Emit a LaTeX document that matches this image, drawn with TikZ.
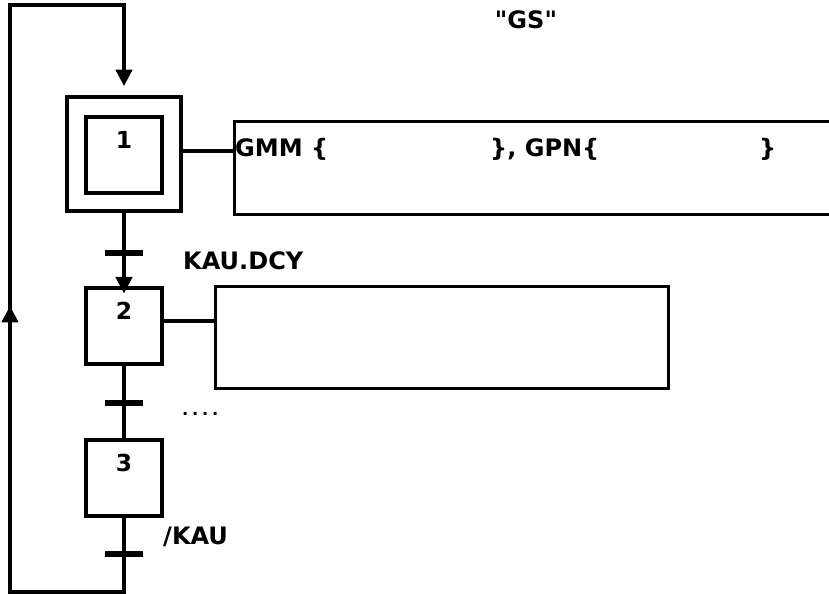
\documentclass[tikz,border=0pt]{standalone}
\usepackage{fontspec}
\newfontfamily\gfont{DejaVu Sans}
\usetikzlibrary{arrows.meta, positioning, calc}
\tikzset{
  stepbox/.style = {draw, line width=2.8pt, minimum size=2.28cm, inner sep=0pt},
  initbox/.style = {draw, line width=2.8pt, minimum size=3.42cm, inner sep=0pt},
  actbox/.style  = {draw, line width=2.8pt},
  link/.style    = {line width=2.8pt},
  arrow/.style   = {-{Triangle[length=14pt, width=14pt]}, line width=2.8pt},
  bar/.style     = {line width=5.5pt},
  num/.style     = {font=\gfont\fontsize{20}{24}\bfseries\selectfont, anchor=north},
  txt/.style     = {font=\gfont\fontsize{20.5}{24}\bfseries\selectfont, inner sep=0pt},
}

\begin{document}
\begin{tikzpicture}[x=0.03cm, y=-0.03cm]
\useasboundingbox (0,0) rectangle (829,594);

% steps
\node[initbox] (s1o) at (124,154) {};
\node[stepbox] (s1) at (124,155) {};
\node[num] at ($(s1.north)+(0,12)$) {1};
\node[stepbox] (s2) at (124,326) {};
\node[num] at ($(s2.north)+(0,12)$) {2};
\node[stepbox] (s3) at (124,478) {};
\node[num] at ($(s3.north)+(0,12)$) {3};

% actions
\node[actbox, minimum width=18.6cm, minimum height=2.79cm, anchor=north west] (a1) at (233,120) {};
\node[actbox, minimum width=13.59cm, minimum height=3.06cm, anchor=north west] (a2) at (214,285) {};
\draw[link] (s1o.east |- 0,151) -- (a1.west |- 0,151);
\draw[link] (s2.east |- 0,321) -- (a2.west |- 0,321);
\node[txt, anchor=west] at (235,149) {GMM \{};
\node[txt, anchor=west] at (490,149) {\}, GPN\{};
\node[txt, anchor=west] at (759,149) {\}};

% transitions
\foreach \y/\n in {253/t1, 403/t2, 554/t3} {
  \coordinate (\n) at (124,\y);
  \draw[bar] ($(\n)+(-19,0)$) -- ($(\n)+(19,0)$);
}
\node[txt, anchor=west] at (183,261) {KAU.DCY};
\node[font=\gfont\fontsize{14}{16}\bfseries\selectfont, anchor=base west, inner sep=0pt] at (182,415) {.\hspace{3.2pt}.\hspace{3.2pt}.\hspace{3.2pt}.};
\node[txt, anchor=west] at (163,537) {/KAU};

% links between steps
\draw[arrow, shorten >=-6pt] (s1o.south) -- (s2.north);
\draw[link] (s2.south) -- (s3.north);

% loop back
\coordinate (bl) at (10,592);
\coordinate (tl) at (10,5);
\coordinate (tr) at (124,5);
\draw[link, line join=miter] (s3.south) -- (124,592) -- (bl) -- (tl) -- (tr) -- ($(tr)+(0,40)$);
\draw[arrow, shorten >=8pt] (tr) -- (s1o.north);
\draw[arrow] (bl) -- (10,306);

\node[txt] (gs) at (526,20) {"GS"};
\end{tikzpicture}
\end{document}
